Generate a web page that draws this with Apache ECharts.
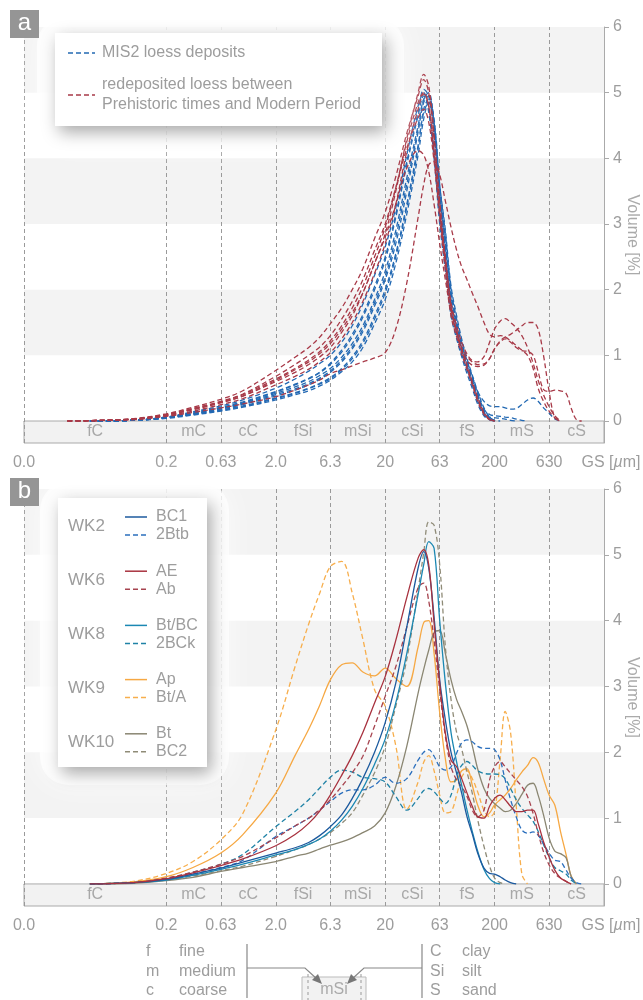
<!DOCTYPE html>
<html>
<head>
<meta charset="utf-8">
<title>Grain size distributions</title>
<script src="https://cdn.jsdelivr.net/npm/echarts@6/dist/echarts.min.js"></script>
<style>
  html, body { margin: 0; padding: 0; background: #fff; }
  #chart { width: 643px; height: 1000px; }
</style>
</head>
<body>
<div id="chart"></div>
<script>
// grain size bins in µm (shared by every curve)
const gs = [0.025, 0.04, 0.1, 0.2, 0.35, 0.63, 1, 2, 3, 4, 5, 6.3, 8, 10, 12.5, 16, 20, 25, 31.5, 40, 45, 50, 56, 63, 71, 80, 90, 100, 112, 125, 140, 160, 180, 200, 225, 250, 280, 315, 355, 400, 450, 500, 560, 630, 710, 800, 900, 1000, 1120, 1250];

// panel a - MIS2 loess deposits (blue)
const mis2_1 = [null, 0,0.01,0.06,0.13,0.21,0.29,0.45,0.56,0.65,0.74, 0.88,1.08,1.32,1.62,2.05,2.5,3.15,3.95,4.7,5.05, 4.95,4.35,3.4,2.6,1.8,1.4,1.1,0.85,0.62,0.38, 0.14,0.04,0];
const mis2_2 = [null, 0,0.01,0.05,0.11,0.19,0.26,0.4,0.49,0.57,0.65, 0.76,0.93,1.13,1.4,1.8,2.2,2.8,3.6,4.45,4.9, 5.0,4.5,3.5,2.65,1.85,1.42,1.1,0.82,0.6,0.36, 0.13,0.04,0];
const mis2_3 = [null, 0,0.01,0.05,0.1,0.17,0.23,0.35,0.43,0.5,0.57, 0.66,0.8,0.98,1.22,1.6,2.0,2.55,3.3,4.2,4.7, 4.85,4.45,3.55,2.8,1.95,1.5,1.15,0.88,0.65,0.4, 0.16,0.05,0];
const mis2_4 = [null, 0,0.01,0.06,0.12,0.2,0.28,0.44,0.55,0.64,0.73, 0.86,1.05,1.28,1.58,2.0,2.45,3.1,3.9,4.65,4.95, 4.75,4.1,3.15,2.4,1.7,1.32,1.02,0.78,0.55,0.3, 0.1,0.02,0];
const mis2_5 = [null, 0,0.01,0.05,0.11,0.18,0.25,0.38,0.47,0.55,0.63, 0.74,0.9,1.1,1.36,1.75,2.15,2.7,3.5,4.4,4.85, 4.95,4.5,3.45,2.7,1.9,1.45,1.15,0.9,0.68,0.45, 0.3,0.23,0.22,0.22,0.2,0.18,0.19,0.25,0.32,0.35, 0.3,0.2,0.12,0.03,0];
const mis2_6 = [null, 0,0.01,0.05,0.1,0.16,0.22,0.34,0.42,0.49,0.56, 0.64,0.78,0.95,1.18,1.55,1.95,2.5,3.25,4.15,4.75, 4.9,4.6,3.6,2.85,2.0,1.55,1.2,0.92,0.68,0.42, 0.18,0.1,0.08,0.07,0.06,0.05,0.03,0.01,0];
const mis2_7 = [null, 0,0.01,0.06,0.14,0.23,0.32,0.5,0.64,0.76,0.87, 1.0,1.2,1.45,1.78,2.22,2.65,3.25,4.05,4.8,5.0, 4.7,4.0,3.0,2.3,1.6,1.25,0.98,0.72,0.5,0.26, 0.08,0.02,0];
const mis2_8 = [null, 0,0.01,0.04,0.09,0.15,0.21,0.32,0.4,0.46,0.53, 0.62,0.75,0.9,1.12,1.48,1.85,2.4,3.15,4.05,4.6, 4.85,4.55,3.6,2.9,2.05,1.6,1.25,0.95,0.7,0.45, 0.2,0.06,0.01,0];
const mis2_9 = [null, 0,0.01,0.05,0.11,0.19,0.27,0.42,0.52,0.6,0.69, 0.8,0.97,1.18,1.45,1.85,2.28,2.9,3.7,4.5,4.9, 4.95,4.4,3.3,2.5,1.75,1.38,1.08,0.82,0.58,0.33, 0.12,0.06,0.05,0.04,0.03,0.01,0];

// panel a - redeposited loess (red)
const redep_1 = [0,0.005,0.03,0.09,0.17,0.28,0.38,0.6,0.74,0.86, 0.97,1.12,1.35,1.6,1.95,2.4,2.85,3.5,4.3,5.0, 5.28,5.1,4.35,3.3,2.45,1.7,1.35,1.08,0.82,0.58, 0.34,0.12,0.03,0];
const redep_2 = [0,0.005,0.035,0.11,0.21,0.33,0.46,0.77,0.97,1.12, 1.27,1.48,1.72,2.0,2.32,2.78,3.18,3.72,4.38,4.95, 5.2,5.0,4.3,3.35,2.5,1.75,1.38,1.1,0.85,0.6, 0.36,0.13,0.03,0];
const redep_3 = [0,0.005,0.03,0.1,0.19,0.3,0.41,0.68,0.86,1.0, 1.12,1.3,1.55,1.82,2.15,2.6,3.0,3.55,4.15,4.62, 4.75,4.55,3.95,3.15,2.45,1.8,1.45,1.2,1.02,0.92, 0.9,0.98,1.2,1.4,1.52,1.56,1.5,1.42,1.3,1.12, 0.88,0.62,0.4,0.22,0.08,0];
const redep_4 = [0,0.005,0.03,0.09,0.18,0.28,0.38,0.62,0.78,0.9, 1.02,1.18,1.4,1.65,1.95,2.4,2.8,3.3,3.85,4.12, 4.05,3.8,3.3,2.7,2.15,1.65,1.35,1.12,0.98,0.9, 0.86,0.87,0.95,1.1,1.22,1.28,1.32,1.38,1.45,1.5, 1.5,1.4,1.0,0.45,0.05,0];
const redep_5 = [0,0.005,0.02,0.07,0.13,0.2,0.26,0.37,0.47,0.55, 0.62,0.72,0.78,0.84,0.9,0.96,1.04,1.4,2.1,3.1, 3.6,3.9,3.95,3.75,3.35,2.95,2.6,2.35,2.15,1.95, 1.75,1.5,1.32,1.28,1.3,1.28,1.22,1.15,1.08,1.0, 0.8,0.5,0.3,0.15,0.05,0];
const redep_6 = [0,0.005,0.03,0.1,0.19,0.29,0.4,0.64,0.8,0.93, 1.05,1.22,1.45,1.72,2.05,2.5,2.95,3.55,4.25,4.85, 5.0,4.8,4.1,3.2,2.4,1.75,1.35,1.08,0.92,0.85, 0.83,0.85,0.95,1.1,1.2,1.25,1.2,1.12,1.07,1.06, 1.0,0.75,0.48,0.45,0.47,0.46,0.42,0.2,0.02,0];
const redep_7 = [0,0.005,0.025,0.08,0.15,0.25,0.34,0.55,0.68,0.79, 0.9,1.04,1.25,1.5,1.82,2.25,2.7,3.3,4.1,4.75, 4.98,4.8,4.05,3.1,2.3,1.6,1.28,1.02,0.78,0.55, 0.3,0.1,0.02,0];

// panel b - soil horizons
const wk2_BC1 = [null, 0,0.02,0.07,0.15,0.24,0.33,0.47,0.55,0.63,0.73, 0.87,1.05,1.3,1.6,2.0,2.45,3.05,3.9,4.8,5.05, 4.8,4.05,3.1,2.49,2.0,1.68,1.38,1.02,0.76,0.47, 0.24,0.16,0.15,0.11,0.06,0.02,0];
const wk2_2Btb = [null, 0,0.02,0.07,0.15,0.25,0.36,0.72,0.88,1.0,1.12, 1.25,1.38,1.43,1.43,1.5,1.62,1.53,1.6,1.88,2.0, 2.04,1.94,1.78,1.73,1.78,1.99,2.14,2.19,2.16,2.09, 2.06,2.06,2.04,1.88,1.58,1.28,1.02,0.82,0.77,0.79, 0.74,0.61,0.47,0.36,0.34,0.21,0.09,0.02,0];
const wk6_AE = [null, 0,0.02,0.08,0.17,0.28,0.38,0.58,0.75,0.92,1.1, 1.35,1.65,1.95,2.3,2.75,3.15,3.7,4.35,4.95,5.08, 4.85,3.96,3.05,2.29,1.88,1.78,1.6,1.38,1.18,1.02, 1.0,1.18,1.3,1.35,1.28,1.18,1.1,1.1,1.12,1.12, 0.92,0.64,0.41,0.21,0.09,0.04,0];
const wk6_Ab = [null, 0,0.02,0.09,0.18,0.3,0.42,0.7,0.88,1.0,1.12, 1.28,1.48,1.69,1.94,2.4,2.85,3.3,3.9,4.5,4.57, 4.3,3.7,2.95,2.24,1.78,1.58,1.48,1.33,1.12,1.02, 1.12,1.58,1.78,1.86,1.78,1.68,1.58,1.48,1.33,1.07, 0.77,0.49,0.29,0.16,0.09,0.04,0];
const wk8_BtBC = [null, 0,0.02,0.06,0.13,0.22,0.3,0.44,0.52,0.6,0.68, 0.8,0.97,1.18,1.45,1.82,2.2,2.75,3.5,4.4,4.85, 5.2,5.1,4.0,3.05,2.3,1.85,1.5,1.12,0.8,0.5, 0.22,0.08,0.02,0];
const wk8_2BCk = [null, 0,0.02,0.08,0.18,0.3,0.45,0.87,1.1,1.28,1.45, 1.62,1.73,1.7,1.62,1.6,1.55,1.33,1.12,1.3,1.42, 1.45,1.4,1.3,1.22,1.35,1.65,1.8,1.86,1.8,1.72, 1.68,1.67,1.67,1.66,1.6,1.45,1.28,1.15,1.05,0.95, 0.8,0.6,0.4,0.25,0.2,0.15,0.06,0];
const wk9_Ap = [null, 0,0.03,0.11,0.25,0.47,0.75,1.38,1.95,2.35,2.7, 3.1,3.33,3.36,3.22,3.16,3.28,3.12,3.0,3.6,3.97, 4.0,3.5,2.6,1.9,1.55,1.58,1.72,1.75,1.5,1.2, 1.02,1.08,1.2,1.28,1.35,1.45,1.58,1.7,1.8,1.92, 1.85,1.6,1.35,1.2,0.8,0.45,0.12,0];
const wk9_BtA = [null, 0,0.04,0.16,0.34,0.67,1.07,2.34,3.3,3.95,4.4, 4.82,4.9,4.42,3.72,2.95,2.7,2.1,1.13,1.55,1.85, 1.95,1.72,1.35,1.08,1.1,1.35,1.62,1.72,1.6,1.4, 1.12,1.02,1.1,1.9,2.62,2.3,1.2,0.15,0];
const wk10_Bt = [null, 0,0.01,0.05,0.1,0.19,0.25,0.34,0.42,0.47,0.53, 0.59,0.64,0.7,0.78,0.88,1.08,1.48,2.09,2.9,3.26, 3.55,3.82,3.85,3.5,3.1,2.8,2.62,2.4,2.1,1.75, 1.45,1.3,1.22,1.15,1.1,1.12,1.22,1.36,1.5,1.53, 1.35,1.05,0.7,0.5,0.46,0.4,0.12,0];
const wk10_BC2 = [null, 0,0.02,0.06,0.12,0.2,0.27,0.42,0.52,0.6,0.68, 0.78,0.92,1.08,1.35,1.69,2.09,2.7,3.41,4.47,5.03, 5.5,5.45,4.85,3.6,2.8,2.3,2.05,1.7,1.38,0.98, 0.57,0.27,0.09,0.02,0];

// axes, grain size classes, tick labels
const tickValues = [0.01, 0.2, 0.63, 2, 6.3, 20, 63, 200, 630];
const tickLabels = ['0.0', '0.2', '0.63', '2.0', '6.3', '20', '63', '200', '630'];
const classNames = ['fC', 'mC', 'cC', 'fSi', 'mSi', 'cSi', 'fS', 'mS', 'cS'];
const classEdges = [0.01, 0.2, 0.63, 2, 6.3, 20, 63, 200, 630, 2000];
const yTicks = [0, 1, 2, 3, 4, 5, 6];
const shadedBands = [[1, 2], [3, 4], [5, 6]];

const xMin = 0.01, xMax = 2000, yMin = -0.335, yMax = 6;
const FONT = '"Liberation Sans", Arial, sans-serif';
const GREY = '#9d9d9d';

const BLUE_A = '#2369b3', RED_A = '#a83a48';
const C = {
  BC1: '#1c5a9e', Btb: '#2b6fbd', AE: '#a8323f', Ab: '#a6434f',
  BtBC: '#1b88b3', BCk: '#1f82a6', Ap: '#f6a843', BtA: '#f7ae4c',
  Bt: '#8a8672', BC2: '#8f8b77'
};

const chart = echarts.init(document.getElementById('chart'), null, {renderer: 'canvas'});

function toPairs(vals) {
  const out = [];
  vals.forEach((v, i) => { if (v !== null && v !== undefined) out.push([gs[i], v]); });
  return out;
}

function curve(vals, color, dashed, gi) {
  return {
    type: 'line', xAxisIndex: gi, yAxisIndex: gi, data: toPairs(vals),
    showSymbol: false, symbol: 'none', smooth: 0.35, z: 3, silent: true,
    lineStyle: {color: color, width: 1.3, type: dashed ? [5, 3] : 'solid'}
  };
}

function xLabel(value) {
  if (Math.abs(Math.log10(value) - Math.log10(xMax)) < 1e-4) return '{g|GS [}{i|µ}{n|m]}';
  for (let i = 0; i < tickValues.length; i++) {
    if (Math.abs(Math.log10(value) - Math.log10(tickValues[i])) < 1e-4) return tickLabels[i];
  }
  return '';
}

function makeX(gi) {
  return {
    type: 'log', logBase: 10, gridIndex: gi, min: xMin, max: xMax,
    axisLine: {show: true, lineStyle: {color: '#aaa'}},
    axisTick: {show: true, customValues: tickValues.map(v => v * (1 + 1e-9)), length: 9,
      lineStyle: {color: '#999', type: [3, 3]}},
    axisLabel: {show: true, customValues: tickValues.map(v => v * (1 + 1e-9)).concat([xMax * (1 - 1e-9)]),
      formatter: xLabel, color: GREY, fontSize: 16, fontFamily: FONT, margin: 12,
      rich: {
        g: {color: GREY, fontSize: 16, fontFamily: FONT, padding: [0, 0, 0, 14]},
        i: {color: GREY, fontSize: 16, fontFamily: FONT, fontStyle: 'italic'},
        n: {color: GREY, fontSize: 16, fontFamily: FONT}
      }},
    splitLine: {show: false}, minorTick: {show: false}, minorSplitLine: {show: false}
  };
}

function makeY(gi) {
  return {
    type: 'value', gridIndex: gi, position: 'right', min: yMin, max: yMax,
    axisLine: {show: true, lineStyle: {color: '#aaa'}},
    axisTick: {show: true, customValues: yTicks, length: 5, lineStyle: {color: '#aaa'}},
    axisLabel: {customValues: yTicks, color: GREY, fontSize: 16, fontFamily: FONT, margin: 9},
    splitLine: {show: false},
    name: 'Volume [%]', nameLocation: 'middle', nameRotate: -90, nameGap: 20, nameMoveOverlap: false,
    nameTextStyle: {color: '#aaa', fontSize: 16, fontFamily: FONT}
  };
}

function frame(gi) {
  const areas = shadedBands.map(b => [
    {xAxis: xMin, yAxis: b[0], itemStyle: {color: '#f3f3f3'}},
    {xAxis: xMax, yAxis: b[1]}
  ]);
  areas.push([
    {xAxis: xMin, yAxis: yMin, itemStyle: {color: '#f2f2f2', borderColor: '#aaa', borderWidth: 1}},
    {xAxis: xMax, yAxis: 0}
  ]);
  classNames.forEach((c, i) => areas.push([
    {name: c, xAxis: classEdges[i], yAxis: yMin, itemStyle: {color: 'rgba(0,0,0,0)'},
      label: {show: true, position: 'inside', color: '#a8a8a8', fontSize: 16, fontFamily: FONT}},
    {xAxis: classEdges[i + 1], yAxis: 0}
  ]));
  return [
    {type: 'line', xAxisIndex: gi, yAxisIndex: gi, data: [], silent: true, z: 1,
      markArea: {silent: true, z: 1, label: {show: false}, data: areas}},
    {type: 'line', xAxisIndex: gi, yAxisIndex: gi, data: [], silent: true, z: 1,
      markLine: {silent: true, z: 1.5, symbol: ['none', 'none'], label: {show: false},
        lineStyle: {color: '#9a9a9a', type: [4, 3], width: 1},
        data: tickValues.map(v => ({xAxis: v}))}}
  ];
}

const series = [].concat(
  frame(0), frame(1),
  [mis2_1, mis2_2, mis2_3, mis2_4, mis2_5, mis2_6, mis2_7, mis2_8, mis2_9].map(v => curve(v, BLUE_A, true, 0)),
  [redep_1, redep_2, redep_3, redep_4, redep_5, redep_6, redep_7].map(v => curve(v, RED_A, true, 0)),
  [
    curve(wk9_BtA, C.BtA, true, 1), curve(wk9_Ap, C.Ap, false, 1),
    curve(wk10_Bt, C.Bt, false, 1), curve(wk10_BC2, C.BC2, true, 1),
    curve(wk8_2BCk, C.BCk, true, 1), curve(wk2_2Btb, C.Btb, true, 1),
    curve(wk6_Ab, C.Ab, true, 1), curve(wk8_BtBC, C.BtBC, false, 1),
    curve(wk2_BC1, C.BC1, false, 1), curve(wk6_AE, C.AE, false, 1)
  ]
);

// legend boxes, panel badges and the class key are drawn as graphics
function txt(x, y, s, opts) {
  return {type: 'text', x: x, y: y, z: 100, silent: true,
    style: Object.assign({text: s, fill: GREY, font: '16px ' + FONT, align: 'left', verticalAlign: 'middle',
      textAlign: 'left', textVerticalAlign: 'middle'}, opts || {})};
}
function seg(x1, y1, x2, y2, color, dash, w) {
  return {type: 'line', z: 100, silent: true, shape: {x1: x1, y1: y1, x2: x2, y2: y2},
    style: {stroke: color, lineWidth: w || 1.5, lineDash: dash || null}};
}
function box(x, y, w, h) {
  return [
    {type: 'rect', z: 98, silent: true, shape: {x: x - 18, y: y - 16, width: w + 40, height: h + 34, r: 28},
      style: {fill: 'rgba(255,255,255,0.7)', shadowBlur: 30, shadowColor: 'rgba(255,255,255,1)'}},
    {type: 'rect', z: 99, silent: true, shape: {x: x, y: y, width: w, height: h},
      style: {fill: '#fff', shadowBlur: 16, shadowColor: 'rgba(0,0,0,0.35)', shadowOffsetX: 4, shadowOffsetY: 6}}
  ];
}
function badge(y, letter) {
  return [
    {type: 'rect', z: 100, silent: true, shape: {x: 10, y: y, width: 29, height: 28}, style: {fill: '#959595'}},
    txt(24.5, y + 13, letter, {fill: '#fff', font: '24px ' + FONT, align: 'center', textAlign: 'center'})
  ];
}

const legendB = [
  ['WK2', 'BC1', '2Btb', C.BC1, C.Btb],
  ['WK6', 'AE', 'Ab', C.AE, C.Ab],
  ['WK8', 'Bt/BC', '2BCk', C.BtBC, C.BCk],
  ['WK9', 'Ap', 'Bt/A', C.Ap, C.BtA],
  ['WK10', 'Bt', 'BC2', C.Bt, C.BC2]
];

let graphic = [].concat(
  badge(10, 'a'), badge(478, 'b'),
  box(55, 33, 327, 93),
  [
    seg(68, 53, 95, 53, BLUE_A, [5, 3]), txt(102, 53, 'MIS2 loess deposits'),
    seg(68, 95, 95, 95, RED_A, [5, 3]), txt(102, 85, 'redeposited loess between'),
    txt(102, 105, 'Prehistoric times and Modern Period')
  ],
  box(58, 498, 149, 269)
);
legendB.forEach((r, i) => {
  const y = 526 + i * 54.2;
  graphic.push(txt(68, y, r[0], {font: '17px ' + FONT}));
  graphic.push(seg(125, y - 9, 147, y - 9, r[3], null, 1.5));
  graphic.push(txt(156, y - 9, r[1]));
  graphic.push(seg(125, y + 9, 147, y + 9, r[4], [5, 3], 1.5));
  graphic.push(txt(156, y + 9, r[2]));
});

// key below panel b
const keyLeft = [['f', 'fine'], ['m', 'medium'], ['c', 'coarse']];
const keyRight = [['C', 'clay'], ['Si', 'silt'], ['S', 'sand']];
keyLeft.forEach((k, i) => {
  graphic.push(txt(146, 952 + i * 19.5, k[0]));
  graphic.push(txt(179, 952 + i * 19.5, k[1]));
});
keyRight.forEach((k, i) => {
  graphic.push(txt(430, 952 + i * 19.5, k[0]));
  graphic.push(txt(462, 952 + i * 19.5, k[1]));
});
graphic = graphic.concat([
  seg(247, 944, 247, 998, '#888', null, 1.2),
  seg(422, 944, 422, 998, '#888', null, 1.2),
  {type: 'rect', z: 100, silent: true, shape: {x: 302, y: 977, width: 64, height: 26},
    style: {fill: '#f2f2f2', stroke: '#bbb', lineWidth: 1}},
  seg(308, 974, 308, 1000, '#999', [3, 3], 1),
  seg(361, 974, 361, 1000, '#999', [3, 3], 1),
  txt(334, 990, 'mSi', {align: 'center', textAlign: 'center', fill: '#aaa'}),
  {type: 'polyline', z: 100, silent: true, shape: {points: [[247, 968], [305, 968], [317, 979]]},
    style: {stroke: '#888', lineWidth: 1.2, fill: null}},
  {type: 'polygon', z: 100, silent: true, shape: {points: [[322, 984], [312, 980], [318, 974]]},
    style: {fill: '#777'}},
  {type: 'polyline', z: 100, silent: true, shape: {points: [[422, 968], [364, 968], [352, 979]]},
    style: {stroke: '#888', lineWidth: 1.2, fill: null}},
  {type: 'polygon', z: 100, silent: true, shape: {points: [[347, 984], [351, 974], [357, 980]]},
    style: {fill: '#777'}}
]);

chart.setOption({
  animation: false,
  backgroundColor: '#fff',
  textStyle: {fontFamily: FONT},
  grid: [
    {left: 24, right: 39, top: 27, height: 416, outerBoundsMode: 'none', containLabel: false},
    {left: 24, right: 39, top: 489, height: 417, outerBoundsMode: 'none', containLabel: false}
  ],
  xAxis: [makeX(0), makeX(1)],
  yAxis: [makeY(0), makeY(1)],
  series: series,
  graphic: graphic
});
</script>
</body>
</html>
